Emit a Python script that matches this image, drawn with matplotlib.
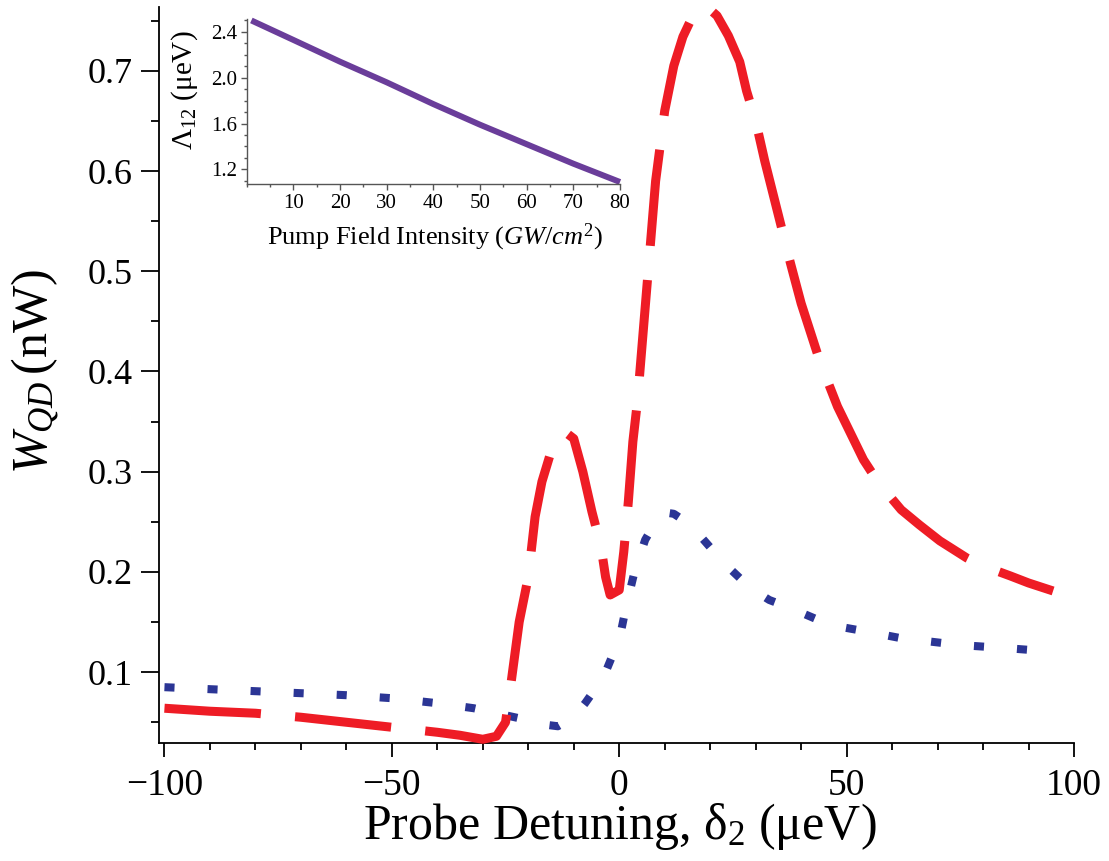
import matplotlib
matplotlib.use("Agg")
import matplotlib.pyplot as plt
from matplotlib.ticker import MultipleLocator, FormatStrFormatter

plt.rcParams['font.family'] = ['Liberation Serif', 'DejaVu Serif']
plt.rcParams['mathtext.fontset'] = 'custom'
plt.rcParams['mathtext.rm'] = 'Liberation Serif'
plt.rcParams['mathtext.it'] = 'Liberation Serif:italic'
plt.rcParams['mathtext.bf'] = 'Liberation Serif:bold'

# ---- main data ----
red_x = [-100, -90, -80, -70, -60, -50, -40, -35, -30, -27, -25, -24, -22, -20,
         -18.5, -17, -15, -13, -12, -10, -8, -6, -4, -3, -2, 0, 1, 2, 3, 4, 6, 8,
         10, 12, 14, 16.5, 19, 21.5, 24, 26.5, 28, 30, 32, 35, 37.6, 40, 44.2, 48,
         53.7, 57, 62, 66, 70.5, 76.4, 80, 86, 90, 95.4]
red_y = [0.064, 0.061, 0.059, 0.055, 0.050, 0.045, 0.040, 0.037, 0.033, 0.036,
         0.050, 0.082, 0.150, 0.195, 0.255, 0.290, 0.320, 0.336, 0.340, 0.333,
         0.300, 0.260, 0.225, 0.195, 0.177, 0.182, 0.220, 0.270, 0.330, 0.370,
         0.480, 0.590, 0.660, 0.705, 0.734, 0.758, 0.765, 0.755, 0.735, 0.709,
         0.680, 0.650, 0.610, 0.556, 0.509, 0.468, 0.409, 0.365, 0.312, 0.289,
         0.262, 0.247, 0.231, 0.214, 0.206, 0.196, 0.189, 0.181]

blue_x = [-100, -90, -80, -70, -60, -50, -40, -32, -25, -20, -17, -13.5, -10,
          -7.5, -5, -3, -1, 0, 1.5, 3.3, 5.7, 8, 10.5, 12, 14, 17.6, 23, 28.8,
          33, 37.6, 46.4, 55, 61.8, 75, 85, 93.7]
blue_y = [0.085, 0.083, 0.081, 0.079, 0.077, 0.074, 0.069, 0.064, 0.057, 0.052,
          0.048, 0.046, 0.055, 0.069, 0.085, 0.100, 0.122, 0.132, 0.165, 0.199,
          0.232, 0.250, 0.259, 0.258, 0.252, 0.237, 0.209, 0.184, 0.172, 0.164,
          0.147, 0.140, 0.134, 0.127, 0.124, 0.121]

# ---- inset data ----
pump_x = [1, 10, 20, 30, 40, 50, 60, 70, 80]
lambda_y = [2.50, 2.33, 2.14, 1.96, 1.77, 1.59, 1.42, 1.25, 1.09]

RED = '#EE1C25'
BLUE = '#2B3595'
PURPLE = '#6A3D9A'

fig = plt.figure(figsize=(11.09, 8.61), dpi=100)
ax = fig.add_axes([159/1109, 1-743.3/861, (1074-159)/1109, (743.3-6.7)/861])

ax.plot(red_x, red_y, color=RED, lw=6.5, dashes=(10.7, 3.8),
        solid_capstyle='butt', dash_capstyle='butt', clip_on=False, zorder=3)
ax.plot(blue_x, blue_y, color=BLUE, lw=5.8, dashes=(1.25, 4.1),
        dash_capstyle='butt', clip_on=False, zorder=2)

ax.set_xlim(-101.2, 100)
ax.set_ylim(0.029, 0.764)
for s in ['top', 'right']:
    ax.spines[s].set_visible(False)
for s in ['left', 'bottom']:
    ax.spines[s].set_linewidth(1.3)

ax.xaxis.set_minor_locator(MultipleLocator(10))
ax.yaxis.set_minor_locator(MultipleLocator(0.05))
ax.set_xticks([-100, -50, 0, 50, 100])
ax.set_yticks([0.1, 0.2, 0.3, 0.4, 0.5, 0.6, 0.7])
ax.yaxis.set_major_formatter(FormatStrFormatter('%.1f'))
ax.tick_params(axis='x', which='major', length=10, width=1.3, labelsize=27, pad=8)
ax.tick_params(axis='x', which='minor', length=5, width=1.3)
ax.tick_params(axis='y', which='major', length=13, width=1.3, labelsize=26, pad=6)
ax.tick_params(axis='y', which='minor', length=6, width=1.3)

ax.set_xlabel(r'Probe Detuning, $\mathrm{δ}_2$ (μeV)', fontsize=36)
ax.xaxis.set_label_coords(0.504, -0.113)
ax.xaxis.label.set_va('center')
ax.set_ylabel(r'$W_{QD}\,$(nW)', fontsize=36)
ax.yaxis.set_label_coords(-0.135, 0.504)
ax.yaxis.label.set_va('center')

# ---- inset ----
axi = fig.add_axes([246.7/1109, 1-184.3/861, (620-246.7)/1109, (184.3-19.3)/861])
axi.plot(pump_x, lambda_y, color=PURPLE, lw=4.3, solid_capstyle='butt', clip_on=False)
axi.set_xlim(0, 80)
axi.set_ylim(1.07, 2.51)
for s in ['top', 'right']:
    axi.spines[s].set_visible(False)
for s in ['left', 'bottom']:
    axi.spines[s].set_linewidth(1.0)
    axi.spines[s].set_color('#555555')
axi.set_xticks([10, 20, 30, 40, 50, 60, 70, 80])
axi.xaxis.set_minor_locator(MultipleLocator(5))
axi.set_yticks([1.2, 1.6, 2.0, 2.4])
axi.yaxis.set_minor_locator(MultipleLocator(0.1))
axi.yaxis.set_major_formatter(FormatStrFormatter('%.1f'))
axi.tick_params(which='major', length=4, width=1.0, color='#555555', labelsize=15, pad=3)
axi.tick_params(which='minor', length=2.5, width=1.0, color='#555555')
axi.set_xlabel(r'Pump Field Intensity ($GW/cm^{2}$)', fontsize=19)
axi.xaxis.set_label_coords(0.504, -0.32)
axi.xaxis.label.set_va('center')
axi.set_ylabel(r'$\mathrm{Λ}_{12}$ (μeV)', fontsize=21)
axi.yaxis.set_label_coords(-0.165, 0.57)
axi.yaxis.label.set_va('center')

fig.savefig('out.png', dpi=100)
